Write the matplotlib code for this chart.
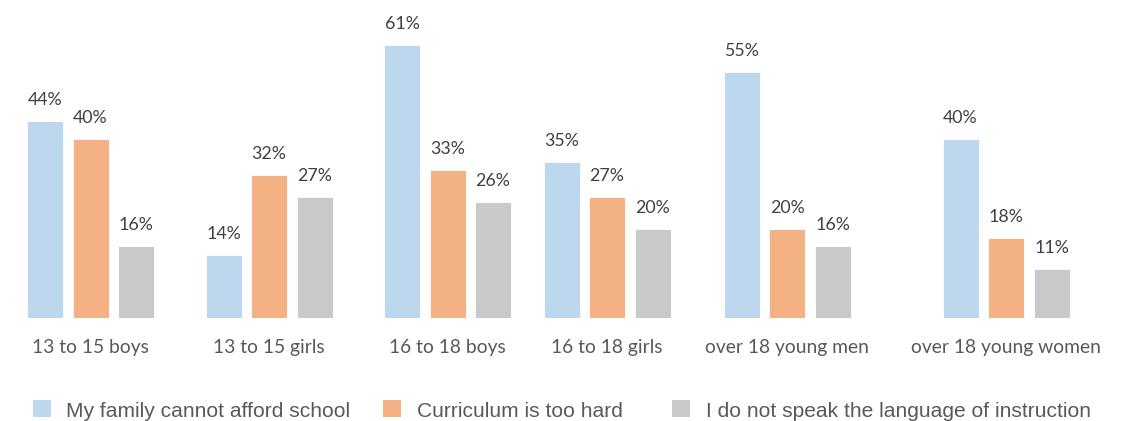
import matplotlib
matplotlib.use("Agg")
import matplotlib.pyplot as plt
from matplotlib.patches import Rectangle

# ---- data ----
categories = ["13 to 15 boys", "13 to 15 girls", "16 to 18 boys",
              "16 to 18 girls", "over 18 young men", "over 18 young women"]
series_names = ["My family cannot afford school", "Curriculum is too hard",
                "I do not speak the language of instruction"]
afford = [44, 14, 61, 35, 55, 40]
too_hard = [40, 32, 33, 27, 20, 18]
language = [16, 27, 26, 20, 16, 11]

# ---- layout / style ----
W, H = 1121, 421
colors = ["#BDD7EE", "#F4B183", "#C9C9C9"]
group_centers = [90.5, 269, 447.5, 607, 787, 1006]   # pixel positions of groups
bar_w = 36
bar_step = 45.5
px_per_pct = 4.47
base_px = 318  # baseline, pixels from top

fig = plt.figure(figsize=(W / 100, H / 100), dpi=100)
ax = fig.add_axes([0, (H - base_px) / H, 1, base_px / H])
ax.set_xlim(0, W)
ax.set_ylim(0, base_px / px_per_pct)

values = [afford, too_hard, language]
for i, (vals, col) in enumerate(zip(values, colors)):
    xs = [c + (i - 1) * bar_step for c in group_centers]
    bars = ax.bar(xs, vals, width=bar_w, color=col, edgecolor="white", linewidth=0.6)
    for b, v in zip(bars, vals):
        ax.annotate(f"{v}%", (b.get_x() + b.get_width() / 2, b.get_height()),
                    xytext=(0, 16 * 0.72), textcoords="offset points",
                    ha="center", va="baseline", fontsize=12.8,
                    family="Lato", color="#404040")

ax.set_xticks(group_centers)
ax.set_xticklabels(categories, fontsize=13.9, family="Lato", color="#595959")
ax.tick_params(axis="x", length=0, pad=35 * 0.72)
for lbl in ax.get_xticklabels():
    lbl.set_verticalalignment("baseline")
ax.set_yticks([])
for s in ax.spines.values():
    s.set_visible(False)

# ---- legend (manual, pixel placement) ----
patch_x = [33, 383, 672]
text_x = [66, 417, 706]
for name, col, px, tx in zip(series_names, colors, patch_x, text_x):
    fig.add_artist(Rectangle((px / W, (H - 416.7) / H), 18 / W, 17 / H,
                             transform=fig.transFigure, facecolor=col,
                             edgecolor="none"))
    fig.text(tx / W, (H - 416.7) / H, name, fontsize=15.15,
             family="Liberation Sans", color="#595959", va="baseline")

fig.savefig("out.png", dpi=100, facecolor="white")
